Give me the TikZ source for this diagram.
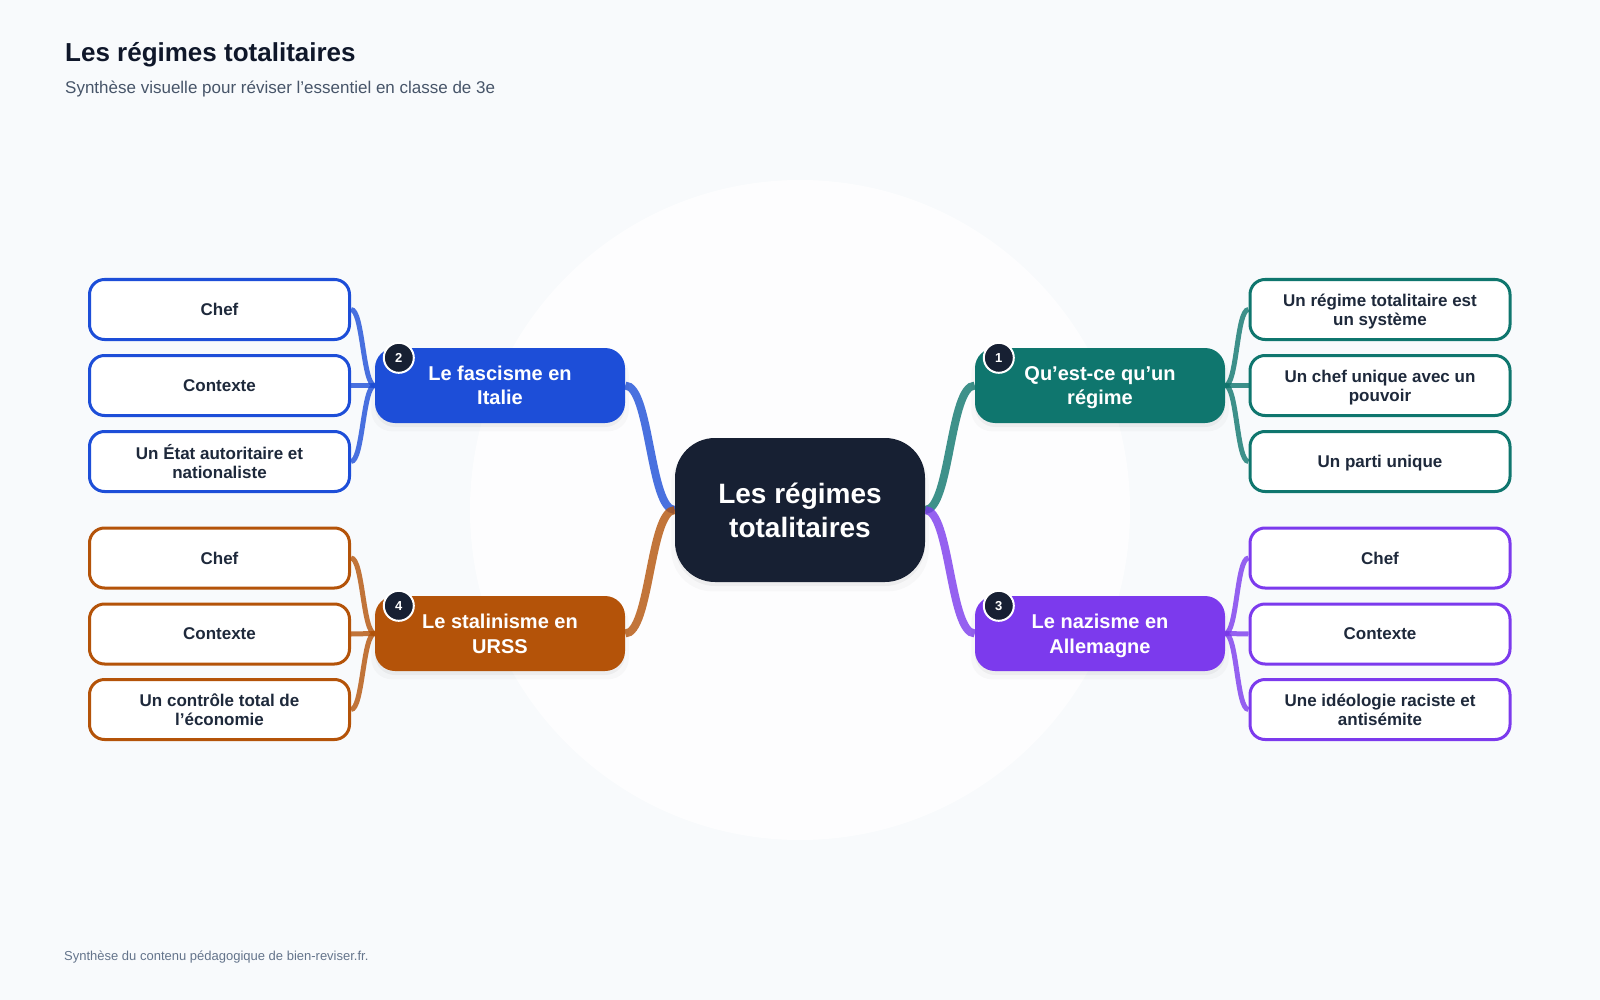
\documentclass[tikz,border=0pt]{standalone}
\usepackage{fontspec}
\setmainfont{Liberation Sans}
\usetikzlibrary{shadows}
\pgfdeclarelayer{bg}
\pgfsetlayers{bg,main}
\definecolor{pagebg}{HTML}{F8FAFC}
\definecolor{titlec}{HTML}{0F172A}
\definecolor{subc}{HTML}{475569}
\definecolor{footc}{HTML}{64748B}
\definecolor{centerc}{HTML}{172033}
\definecolor{badgec}{HTML}{172033}
\definecolor{leaftext}{HTML}{1E293B}
\definecolor{tealc}{HTML}{0F766E}
\definecolor{bluec}{HTML}{1D4ED8}
\definecolor{violetc}{HTML}{7C3AED}
\definecolor{amberc}{HTML}{B45309}
\tikzset{
  softshadow/.style={
    general shadow={shadow yshift=-7pt, shadow scale=1.03, fill=black, opacity=0.025},
    general shadow={shadow yshift=-4pt, fill=black, opacity=0.04}},
  central/.style={softshadow, fill=centerc, rounded corners=40pt,
    minimum width=250pt, minimum height=144pt, inner sep=0pt, align=center,
    text=white, font=\bfseries\fontsize{28}{34}\selectfont},
  branch/.style={softshadow, rounded corners=20pt, minimum width=250pt,
    minimum height=75pt, inner sep=0pt, align=center, text=white, text depth=0pt,
    font=\bfseries\fontsize{20}{24.5}\selectfont},
  leaf/.style={draw, fill=white, line width=3pt, rounded corners=15pt,
    minimum width=260pt, minimum height=60pt, inner sep=0pt, align=center,
    text=leaftext, text depth=0pt, font=\bfseries\fontsize{17}{19}\selectfont},
  badge/.style={circle, fill=badgec, draw=white, line width=2pt,
    minimum size=30pt, inner sep=0pt, text=white,
    font=\bfseries\fontsize{13}{13}\selectfont},
  trunk/.style={line width=8pt, draw opacity=0.8},
  twig/.style={line width=5pt, draw opacity=0.8},
  plain/.style={anchor=base west, inner sep=0pt}
}
\begin{document}
\begin{tikzpicture}[x=1pt,y=-1pt]
\useasboundingbox (0,0) rectangle (1600,1000);
\begin{pgfonlayer}{bg}
\fill[pagebg] (0,0) rectangle (1600,1000);
\fill[white, opacity=0.75] (800,510) circle (330pt);
\end{pgfonlayer}

\node[plain, text=titlec, font=\bfseries\fontsize{26}{30}\selectfont] (title) at (65,62) {Les régimes totalitaires};
\node[plain, text=subc, font=\fontsize{17}{20}\selectfont] (sub) at (65,94) {Synthèse visuelle pour réviser l’essentiel en classe de 3e};
\node[plain, text=footc, font=\fontsize{13}{15}\selectfont] (foot) at (64,960) {Synthèse du contenu pédagogique de bien-reviser.fr.};

\node[central] (c) at (800,510) {Les régimes\\totalitaires};

\node[branch, fill=tealc] (b1) at (1100,385.5) {Qu’est-ce qu’un\\régime};
\node[branch, fill=bluec] (b2) at (500,385.5) {Le fascisme en\\Italie};
\node[branch, fill=violetc] (b3) at (1100,633.5) {Le nazisme en\\Allemagne};
\node[branch, fill=amberc] (b4) at (500,633.5) {Le stalinisme en\\URSS};

\node[badge] (n1) at ([shift={(24,10)}]b1.north west) {1};
\node[badge] (n2) at ([shift={(24,10)}]b2.north west) {2};
\node[badge] (n3) at ([shift={(24,10)}]b3.north west) {3};
\node[badge] (n4) at ([shift={(24,10)}]b4.north west) {4};

\node[leaf, draw=tealc] (l11) at (1380,309.5) {Un régime totalitaire est\\un système};
\node[leaf, draw=tealc] (l12) at (1380,385.5) {Un chef unique avec un\\pouvoir};
\node[leaf, draw=tealc] (l13) at (1380,461.5) {Un parti unique};

\node[leaf, draw=bluec] (l21) at (219.5,309.5) {Chef};
\node[leaf, draw=bluec] (l22) at (219.5,385.5) {Contexte};
\node[leaf, draw=bluec] (l23) at (219.5,461.5) {Un État autoritaire et\\nationaliste};

\node[leaf, draw=violetc] (l31) at (1380,558) {Chef};
\node[leaf, draw=violetc] (l32) at (1380,634) {Contexte};
\node[leaf, draw=violetc] (l33) at (1380,709.5) {Une idéologie raciste et\\antisémite};

\node[leaf, draw=amberc] (l41) at (219.5,558) {Chef};
\node[leaf, draw=amberc] (l42) at (219.5,634) {Contexte};
\node[leaf, draw=amberc] (l43) at (219.5,709.5) {Un contrôle total de\\l’économie};

\begin{pgfonlayer}{bg}
\draw[trunk, draw=tealc] (c.east) .. controls +(25,0) and +(-25,0) .. (b1.west);
\draw[trunk, draw=bluec] (c.west) .. controls +(-25,0) and +(25,0) .. (b2.east);
\draw[trunk, draw=violetc] (c.east) .. controls +(25,0) and +(-25,0) .. (b3.west);
\draw[trunk, draw=amberc] (c.west) .. controls +(-25,0) and +(25,0) .. (b4.east);
\foreach \k in {1,2,3} {
  \draw[twig, draw=tealc] (b1.east) .. controls +(12,0) and +(-12,0) .. (l1\k.west);
  \draw[twig, draw=bluec] (b2.west) .. controls +(-12,0) and +(12,0) .. (l2\k.east);
  \draw[twig, draw=violetc] (b3.east) .. controls +(12,0) and +(-12,0) .. (l3\k.west);
  \draw[twig, draw=amberc] (b4.west) .. controls +(-12,0) and +(12,0) .. (l4\k.east);
}
\end{pgfonlayer}
\end{tikzpicture}
\end{document}
